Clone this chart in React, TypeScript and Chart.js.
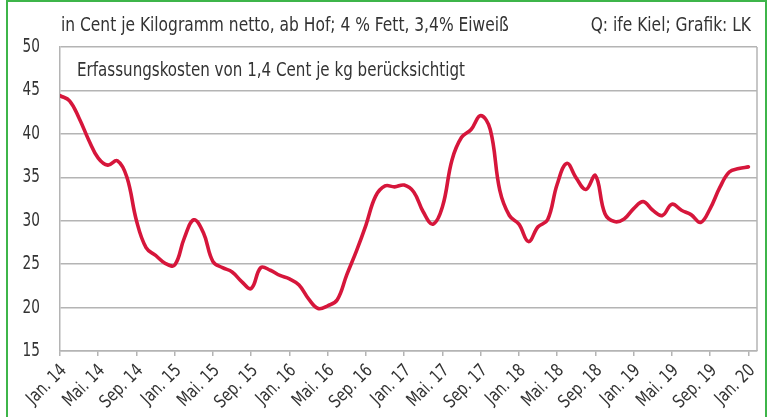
import React, { useEffect, useRef } from "react";
import { Chart, registerables } from "chart.js";

Chart.register(...registerables);

const monthValues: number[] = [
  44.4, 43.8, 41.8, 39.3, 37.2, 36.4, 36.9, 35.0, 30.0, 26.9, 26.0, 25.1,
  24.9, 28.0, 30.1, 28.6, 25.3, 24.6, 24.1, 23.0, 22.2, 24.6, 24.3, 23.7,
  23.3, 22.6, 21.0, 19.9, 20.2, 20.9, 23.8, 26.5, 29.5, 32.8, 34.0, 33.9,
  34.1, 33.3, 31.0, 29.6, 31.6, 37.0, 39.6, 40.5, 42.1, 40.5, 33.5, 30.6,
  29.6, 27.6, 29.3, 30.1, 34.2, 36.6, 34.9, 33.6, 35.2, 30.8, 29.9, 30.2,
  31.4, 32.2, 31.2, 30.6, 31.9, 31.2, 30.7, 29.8, 31.4, 33.8, 35.6, 36.0,
  36.2,
];

const tickLabels: string[] = [
  "Jan. 14", "Mai. 14", "Sep. 14", "Jan. 15", "Mai. 15", "Sep. 15",
  "Jan. 16", "Mai. 16", "Sep. 16", "Jan. 17", "Mai. 17", "Sep. 17",
  "Jan. 18", "Mai. 18", "Sep. 18", "Jan. 19", "Mai. 19", "Sep. 19",
  "Jan. 20",
];

const yTicks: number[] = [15, 20, 25, 30, 35, 40, 45, 50];

const headerLeft = "in Cent je Kilogramm netto, ab Hof; 4 % Fett, 3,4% Eiweiß";
const headerRight = "Q: ife Kiel; Grafik: LK";
const noteText = "Erfassungskosten von 1,4 Cent je kg berücksichtigt";

const FONT = '"DejaVu Sans Condensed", "Liberation Sans Narrow", "Roboto", sans-serif';
const TEXT = "#333333";
const GRID = "#b4b4b4";

function drawNarrow(
  ctx: CanvasRenderingContext2D,
  text: string,
  x: number,
  y: number,
  align: CanvasTextAlign,
  size: number,
  sx: number,
  rot = 0
) {
  ctx.save();
  ctx.translate(x, y);
  if (rot) ctx.rotate(rot);
  ctx.scale(sx, 1);
  ctx.font = `${size}px ${FONT}`;
  ctx.textAlign = align;
  ctx.textBaseline = "middle";
  ctx.fillStyle = TEXT;
  ctx.fillText(text, 0, 0);
  ctx.restore();
}

const textPlugin = {
  id: "texts",
  afterDraw(chart: any) {
    const ctx = chart.ctx as CanvasRenderingContext2D;
    const area = chart.chartArea;
    const xs = chart.scales.x;
    const ys = chart.scales.y;
    // header texts
    drawNarrow(ctx, headerLeft, area.left + 1, 26, "left", 20, 0.86);
    drawNarrow(ctx, headerRight, area.right - 6, 26, "right", 20, 0.86);
    drawNarrow(ctx, noteText, area.left + 17, 71, "left", 20, 0.84);
    // y tick labels
    yTicks.forEach((v) => {
      drawNarrow(ctx, String(v), area.left - 20, ys.getPixelForValue(v), "right", 19, 0.8);
    });
    // x tick labels
    tickLabels.forEach((lab, i) => {
      const px = xs.getPixelForValue(i * 4);
      drawNarrow(ctx, lab, px + 4, 368, "right", 18, 0.86, -Math.PI / 4);
    });
    // right frame line
    ctx.save();
    ctx.strokeStyle = GRID;
    ctx.lineWidth = 1.5;
    ctx.beginPath();
    ctx.moveTo(area.right, area.top);
    ctx.lineTo(area.right, area.bottom);
    ctx.stroke();
    ctx.restore();
  },
};

export default function App() {
  const ref = useRef<HTMLCanvasElement | null>(null);
  useEffect(() => {
    if (!ref.current) return;
    const chart = new Chart(ref.current, {
      type: "line",
      data: {
        datasets: [
          {
            data: monthValues.map((v, i) => ({ x: i, y: v })),
            borderColor: "#d6163b",
            borderWidth: 3.6,
            pointRadius: 0,
            tension: 0.4,
            fill: false,
            borderCapStyle: "round",
            borderJoinStyle: "round",
          },
        ],
      },
      options: {
        responsive: false,
        animation: false,
        layout: { padding: { left: 0, top: 47, right: 11, bottom: 0 } },
        plugins: { legend: { display: false }, tooltip: { enabled: false } },
        scales: {
          x: {
            type: "linear",
            min: 0,
            max: 72.9,
            afterBuildTicks: (scale: any) => {
              scale.ticks = tickLabels.map((_, i) => ({ value: i * 4 }));
            },
            afterFit: (scale: any) => {
              scale.height = 66;
            },
            grid: {
              drawOnChartArea: false,
              drawTicks: true,
              tickLength: 5,
              color: GRID,
              lineWidth: 1.5,
            },
            border: { display: true, color: GRID, width: 1.5 },
            ticks: {
              autoSkip: false,
              maxRotation: 0,
              color: "rgba(0,0,0,0)",
              font: { family: FONT, size: 1 },
              callback: () => "",
            },
          },
          y: {
            min: 15,
            max: 50,
            afterFit: (scale: any) => {
              scale.width = 60;
            },
            grid: {
              drawTicks: false,
              color: GRID,
              lineWidth: 1.5,
            },
            border: { display: true, color: GRID, width: 1.5 },
            ticks: {
              stepSize: 5,
              color: "rgba(0,0,0,0)",
              callback: () => "",
            },
          },
        },
      },
      plugins: [textPlugin],
    } as any);
    return () => chart.destroy();
  }, []);

  return (
    <div
      style={{
        position: "fixed",
        left: 0,
        top: 0,
        width: 768,
        height: 417,
        background: "#ffffff",
      }}
    >
      <canvas ref={ref} width={768} height={417} style={{ display: "block" }} />
      <div
        style={{
          position: "absolute",
          left: 6,
          top: 0,
          width: 761,
          height: 417,
          borderLeft: "2px solid #3db54a",
          borderTop: "2px solid #3db54a",
          borderRight: "2px solid #3db54a",
          boxSizing: "border-box",
          pointerEvents: "none",
        }}
      />
    </div>
  );
}
